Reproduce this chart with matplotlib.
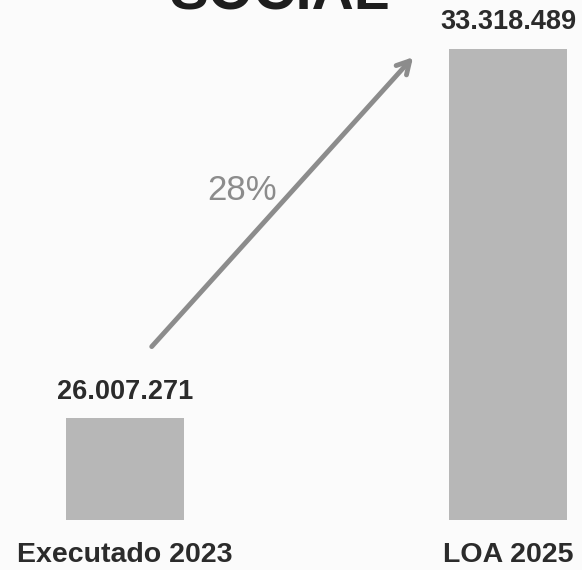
import matplotlib
matplotlib.use('Agg')
import matplotlib.pyplot as plt

# data
categories = ["Executado 2023", "LOA 2025"]
values = [26007271, 33318489]
value_labels = ["26.007.271", "33.318.489"]
growth_label = "28%"
title = "SOCIAL"

bar_color = '#b7b7b7'
text_color = '#2b2b2b'
arrow_color = '#8c8c8c'
bg = '#fbfbfb'

plt.rcParams['font.family'] = ['Liberation Sans', 'DejaVu Sans']

fig = plt.figure(figsize=(5.82, 5.70), dpi=100, facecolor=bg)
ax = fig.add_axes([0, 0, 1, 1], facecolor=bg)

base = 24e6  # truncated axis start
x = [0, 1]
ax.bar(x, [v - base for v in values], bottom=base, width=0.307,
       color=bar_color, edgecolor='none')

ax.set_xlim(-0.326, 1.193)
ax.set_ylim(23.01e6, 34.28e6)
ax.axis('off')

# value labels above bars
for xi, v, lab in zip(x, values, value_labels):
    ax.annotate(lab, (xi, v), xytext=(0, 10), textcoords='offset points',
                ha='center', va='bottom', fontsize=19.5, fontweight='bold',
                color=text_color)

# category labels under bars
for xi, cat in zip(x, categories):
    ax.annotate(cat, (xi, base), xytext=(0, -30), textcoords='offset points',
                ha='center', va='baseline', fontsize=20.5, fontweight='bold',
                color=text_color)

# growth arrow
ax.annotate('', xy=(0.752, values[1] - 0.17e6), xytext=(0.07, values[0] + 1.42e6),
            arrowprops=dict(arrowstyle='->,head_length=0.9,head_width=0.5',
                            lw=3.5, color=arrow_color, shrinkA=0, shrinkB=0))
ax.text(0.305, values[0] + 4.5e6, growth_label, ha='center', va='center',
        fontsize=25, color=arrow_color)

# title, mostly cut off by the top edge in the original
fig.text(0.48, 1 - 10 / 570, title, ha='center', va='baseline',
         fontsize=42, fontweight='bold', color='#1e1e1e')

fig.savefig('out.png', dpi=100, facecolor=bg)
